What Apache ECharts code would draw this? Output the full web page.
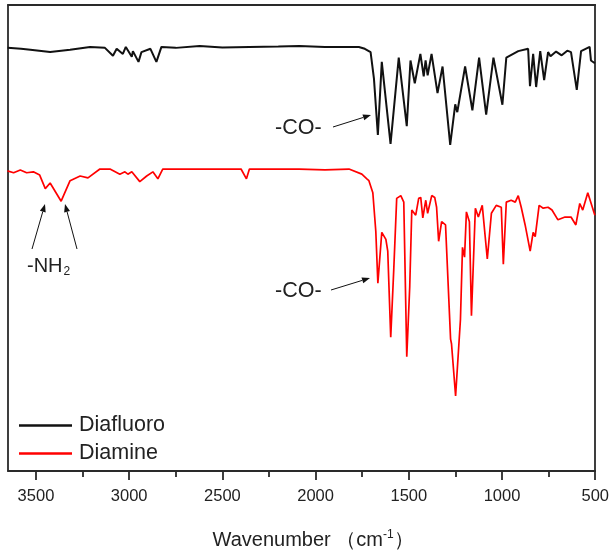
<!DOCTYPE html>
<html>
<head>
<meta charset="utf-8">
<script src="https://cdn.jsdelivr.net/npm/echarts@6/dist/echarts.min.js"></script>
<style>html,body{margin:0;padding:0;background:#fff}#c{width:612px;height:555px}</style>
</head>
<body>
<div id="c"></div>
<script>
// ---- Data (wavenumber cm^-1, relative transmittance, arbitrary units) ----
const seriesNames = ['Diafluoro', 'Diamine'];
const majorTicks = [3500, 3000, 2500, 2000, 1500, 1000, 500];
const minorTicks = [3250, 2750, 2250, 1750, 1250, 750];

const diafluoroWn = [3652,3580,3530,3424,3317,3210,3130,3087,3067,3034,3018,2986,2980,2950,2934,2886,2854,2827,2750,2622,2500,2355,2200,2088,1950,1874,1768,1736,1705,1687,1666,1645,1598,1554,1511,1491,1468,1438,1420,1410,1399,1378,1346,1319,1278,1251,1240,1198,1159,1123,1085,1046,998,977,913,860,850,833,817,795,774,753,740,710,680,650,630,599,576,530,523,502];
const diafluoroT  = [90.8,90.6,90.4,89.9,90.4,91.0,90.8,89.1,90.6,89.5,91.0,88.9,90.1,87.8,89.9,90.6,87.8,91.0,90.8,91.2,90.9,91.0,91.1,91.2,91.0,91.0,91.0,90.6,89.9,84.2,72.1,87.8,70.2,88.7,74.0,88.1,83.2,89.5,84.7,88.1,84.9,89.5,81.1,86.8,70.0,78.7,77.0,86.8,77.4,88.7,76.5,88.7,78.6,88.7,90.1,90.6,82.6,89.5,82.4,90.1,83.9,89.9,89.0,90.0,89.2,90.2,89.9,81.8,90.1,91.0,88.1,87.5];

const diamineWn = [3653,3620,3584,3550,3514,3480,3450,3424,3365,3317,3263,3221,3157,3103,3050,3023,3007,2986,2943,2906,2873,2846,2820,2622,2400,2371,2355,2200,2088,1950,1821,1752,1725,1714,1693,1677,1666,1645,1623,1613,1597,1581,1565,1543,1527,1511,1495,1484,1463,1447,1436,1425,1409,1399,1377,1361,1351,1340,1324,1303,1276,1271,1249,1223,1212,1201,1191,1175,1164,1143,1127,1106,1079,1057,1031,1004,993,977,951,929,913,897,876,849,833,822,801,779,753,732,700,662,630,604,583,567,540,502];
const diamineT  = [64.4,64.0,64.6,64.0,64.2,63.5,60.6,61.8,57.9,62.3,63.3,62.9,64.8,64.8,63.7,64.2,63.7,64.2,62.1,63.3,64.2,62.7,64.8,64.8,64.8,62.7,64.8,64.8,64.8,64.6,64.8,63.7,62.7,62.3,59.7,51.4,40.3,51.2,49.7,47.2,28.7,43.0,58.5,59.1,57.7,24.5,39.6,56.0,54.9,58.5,58.7,54.3,58.1,55.3,59.1,58.7,56.6,49.3,53.5,52.8,28.3,27.3,16.1,32.5,48.0,45.9,55.6,53.5,33.3,56.4,54.5,57.0,45.5,55.3,57.0,56.6,44.4,57.7,58.1,57.7,59.1,56.6,52.8,47.2,51.2,50.3,57.0,56.4,56.6,56.0,53.9,54.5,54.5,52.8,57.4,56.0,59.7,54.9];

function zip(a, b) { return a.map((v, i) => [v, b[i]]); }

const chart = echarts.init(document.getElementById('c'), null, {renderer: 'canvas'});
const FONT = 'Liberation Sans, Arial, sans-serif';
const AX = '#2a2a2a';
const TXT = '#222';

function arrow(x1, y1, x2, y2) {
  const ang = Math.atan2(y2 - y1, x2 - x1);
  const L = 8, W = 3;
  const bx = x2 - L * Math.cos(ang), by = y2 - L * Math.sin(ang);
  const px = -Math.sin(ang) * W, py = Math.cos(ang) * W;
  return [
    {type: 'line', shape: {x1, y1, x2: bx, y2: by}, style: {stroke: '#111', lineWidth: 1}, z: 100},
    {type: 'polygon', shape: {points: [[x2, y2], [bx + px, by + py], [bx - px, by - py]]}, style: {fill: '#111'}, z: 100}
  ];
}

const baseX = {
  type: 'value', min: 500, max: 3650, inverse: true, interval: 500,
  splitLine: {show: false}
};

const option = {
  animation: false,
  backgroundColor: '#fff',
  grid: {left: 8, right: 16, top: 5, bottom: 72, containLabel: false},
  xAxis: [
    Object.assign({}, baseX, {
      position: 'bottom',
      name: 'Wavenumber （cm{sup|-1}）',
      nameLocation: 'middle', nameGap: 58,
      nameTextStyle: {fontFamily: FONT, fontSize: 20, color: TXT, padding: [0, 0, 0, 23],
        rich: {sup: {fontFamily: FONT, fontSize: 12, color: TXT, padding: [0, 0, 10, 0]}}},
      axisLine: {show: true, onZero: false, lineStyle: {color: AX, width: 1.8}},
      axisTick: {show: true, inside: false, length: 9, lineStyle: {color: AX, width: 1.8}, customValues: majorTicks},
      axisLabel: {show: true, margin: 17, fontFamily: FONT, fontSize: 16.5, color: TXT,
        customValues: majorTicks, formatter: v => String(v)}
    }),
    Object.assign({}, baseX, {
      position: 'bottom',
      axisLine: {show: false},
      axisTick: {show: true, inside: false, length: 6, lineStyle: {color: AX, width: 1.8}, customValues: minorTicks},
      axisLabel: {show: false}
    }),
    Object.assign({}, baseX, {
      position: 'top',
      axisLine: {show: true, onZero: false, lineStyle: {color: AX, width: 1.8}},
      axisTick: {show: false}, axisLabel: {show: false}
    })
  ],
  yAxis: [
    {type: 'value', min: 0, max: 100, position: 'left',
      axisLine: {show: true, onZero: false, lineStyle: {color: AX, width: 1.8}},
      axisTick: {show: false}, axisLabel: {show: false}, splitLine: {show: false}},
    {type: 'value', min: 0, max: 100, position: 'right',
      axisLine: {show: true, onZero: false, lineStyle: {color: AX, width: 1.8}},
      axisTick: {show: false}, axisLabel: {show: false}, splitLine: {show: false}}
  ],
  legend: {
    orient: 'vertical', left: 14, top: 409, itemWidth: 53, itemHeight: 2.5, itemGap: 5,
    icon: 'rect',
    data: seriesNames,
    textStyle: {fontFamily: FONT, fontSize: 21.5, lineHeight: 23, color: TXT, padding: [0, 0, 0, 2]}
  },
  series: [
    {name: seriesNames[0], type: 'line', data: zip(diafluoroWn, diafluoroT), showSymbol: false, symbol: 'none',
      lineStyle: {color: '#111', width: 2}, itemStyle: {color: '#111'}, smooth: false},
    {name: seriesNames[1], type: 'line', data: zip(diamineWn, diamineT), showSymbol: false, symbol: 'none',
      lineStyle: {color: '#ff0000', width: 1.7}, itemStyle: {color: '#ff0000'}, smooth: false}
  ],
  graphic: [
    {type: 'text', left: 275, top: 117, style: {text: '-CO-', fontFamily: FONT, fontSize: 21.5, fill: TXT}},
    ...arrow(333, 127, 371, 115),
    {type: 'text', left: 275, top: 280, style: {text: '-CO-', fontFamily: FONT, fontSize: 21.5, fill: TXT}},
    ...arrow(331, 290, 370, 278),
    {type: 'text', left: 27, top: 256, style: {text: '-NH{sub|2}', fontFamily: FONT, fontSize: 20, fill: TXT,
      rich: {sub: {fontFamily: FONT, fontSize: 12, fill: TXT, padding: [12, 0, 0, 1]}}}},
    ...arrow(32, 249, 45, 204),
    ...arrow(77, 249, 65, 204)
  ]
};
chart.setOption(option);
</script>
</body>
</html>
